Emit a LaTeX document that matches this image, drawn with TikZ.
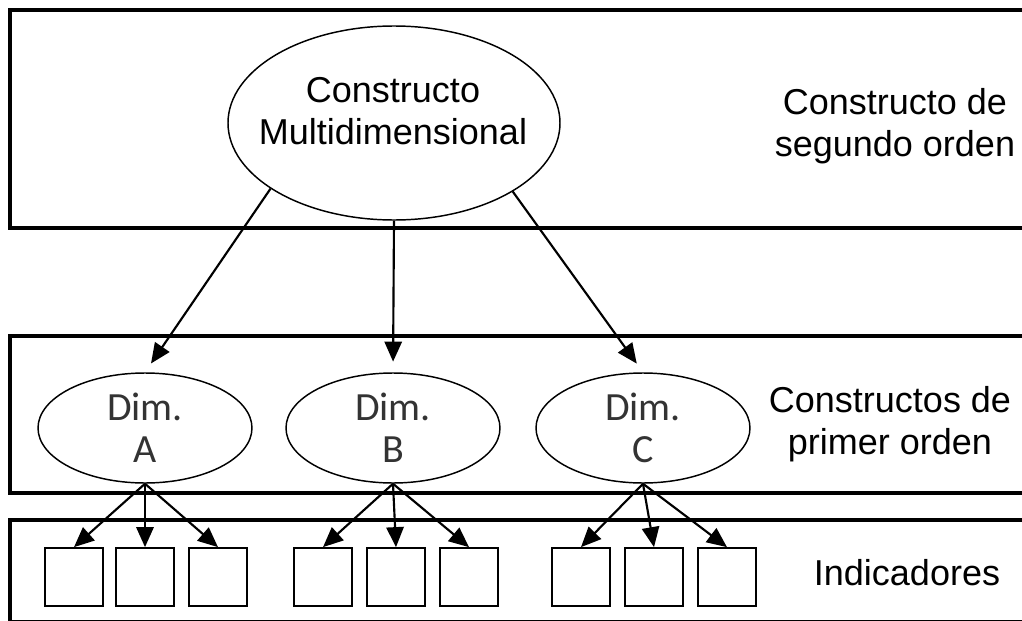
\documentclass[tikz,border=0pt]{standalone}
\usepackage{fontspec}
\setmainfont{Liberation Sans}
\newfontfamily\dimfont{Carlito}
\usetikzlibrary{shapes.geometric,arrows.meta}
\begin{document}
\begin{tikzpicture}[x=0.75pt,y=-0.75pt,
  band/.style={draw=black,line width=3pt},
  bigoval/.style={draw,ellipse,line width=1.1pt,minimum width=249pt,minimum height=145.5pt,inner sep=0pt},
  dimoval/.style={draw,ellipse,line width=1.1pt,minimum width=160.5pt,minimum height=82.5pt,inner sep=0pt,align=center,
    font=\dimfont\fontsize{30pt}{31.5pt}\selectfont,text=black!80},
  ind/.style={draw,line width=1.3pt,minimum width=43.5pt,minimum height=43.5pt,inner sep=0pt},
  lbl/.style={align=center,font=\fontsize{27pt}{31.5pt}\selectfont},
  arr/.style={line width=1.6pt,-{Triangle[length=15pt,width=13pt]}},
  sarr/.style={line width=1.6pt,-{Triangle[length=15pt,width=13pt]}}]
\useasboundingbox (0,0) rectangle (1022,621);
\clip (0,0) rectangle (1022,621);
\fill[white] (0,0) rectangle (1022,621);

% level bands
\draw[band] (10,10) rectangle (1040,228);
\draw[band] (10,336) rectangle (1040,493);
\draw[band] (10,520) rectangle (1040,622);

% second-order construct
\node[bigoval] (M) at (394,123) {};
\node[lbl] (MT) at (393,111) {Constructo\\Multidimensional};

% first-order dimensions
\node[dimoval] (DA) at (145,428) {Dim.\\A};
\node[dimoval] (DB) at (393,428) {Dim.\\B};
\node[dimoval] (DC) at (643,428) {Dim.\\C};

% indicators
\foreach \n/\x in {A1/74,A2/145,A3/218,B1/323,B2/396,B3/469,C1/581,C2/654,C3/727}
  \node[ind] (\n) at (\x,577) {};

% side labels
\node[lbl] (L1) at (895,126) {Constructo de\\segundo orden};
\node[lbl] (L2) at (890,424) {Constructos de\\primer orden};
\node[lbl] (L3) at (907,573) {Indicadores};

% construct to dimensions
\draw[arr,shorten >=8pt] (M.208) -- (DA.north);
\draw[arr,shorten >=8pt] (M.south) -- (DB.north);
\draw[arr,shorten >=8pt] (M.330) -- (DC.north);

% dimensions to indicators
\foreach \d/\a/\b/\c in {DA/A1/A2/A3,DB/B1/B2/B3,DC/C1/C2/C3}{
  \draw[sarr] (\d.south) -- (\a.north);
  \draw[sarr] (\d.south) -- (\b.north);
  \draw[sarr] (\d.south) -- (\c.north);
}
\end{tikzpicture}
\end{document}
